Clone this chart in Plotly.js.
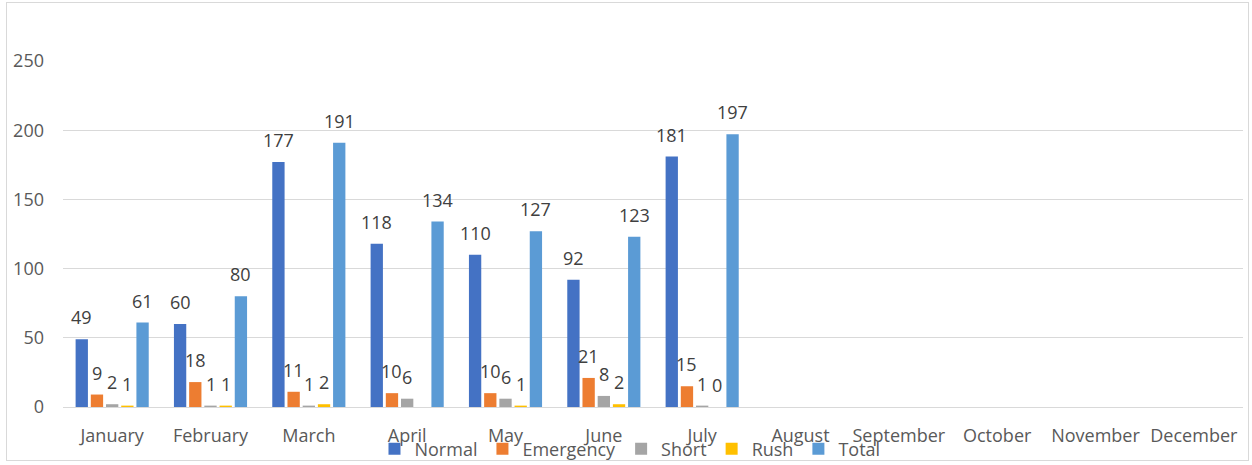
<!DOCTYPE html>
<html>
<head>
<meta charset="utf-8">
<script src="https://cdn.plot.ly/plotly-3.0.1.min.js"></script>
<style>
  html, body { margin: 0; padding: 0; background: #ffffff; }
  #wrap { position: relative; width: 1252px; height: 465px; overflow: hidden; }
  #chart { position: absolute; left: 0; top: 0; width: 1252px; height: 465px; }
  #frame { position: absolute; left: 6px; top: 2px; width: 1243px; height: 459px;
           border: 1px solid #d9d9d9; pointer-events: none; box-sizing: border-box; }
</style>
</head>
<body>
<div id="wrap">
  <div id="chart"></div>
  <div id="frame"></div>
</div>
<script>
const months = ["January", "February", "March", "April", "May", "June",
                "July", "August", "September", "October", "November", "December"];
const normal    = [49, 60, 177, 118, 110, 92, 181, null, null, null, null, null];
const emergency = [9, 18, 11, 10, 10, 21, 15, null, null, null, null, null];
const shortJobs = [2, 1, 1, 6, 6, 8, 1, null, null, null, null, null];
const rush      = [1, 1, 2, null, 1, 2, 0, null, null, null, null, null];
const total     = [61, 80, 191, 134, 127, 123, 197, null, null, null, null, null];
const yTicks    = [0, 50, 100, 150, 200, 250];

const seriesNames  = ["Normal", "Emergency", "Short", "Rush", "Total"];
const seriesValues = [normal, emergency, shortJobs, rush, total];
const seriesColors = ["#4472C4", "#ED7D31", "#A5A5A5", "#FFC000", "#5B9BD5"];

const FONT = '"Open Sans", "Noto Sans", sans-serif';

const W = 1252, H = 465;
const M = { l: 63, r: 9, t: 61, b: 58 };
const BARGAP = 0.227, GROUPGAP = 0.19;

const traces = seriesNames.map((name, i) => ({
  type: "bar",
  name: name,
  x: months,
  y: seriesValues[i],
  marker: { color: seriesColors[i] },
  cliponaxis: false,
  hoverinfo: "skip"
}));

// data labels: centred above each bar of the group
const plotW = W - M.l - M.r;
const catW = plotW / months.length;
const pitch = catW * (1 - BARGAP) / seriesNames.length;
const annotations = [];
seriesValues.forEach((vals, i) => {
  vals.forEach((v, j) => {
    if (v === null) return;
    annotations.push({
      x: months[j], y: v, xref: "x", yref: "y",
      xshift: (i - (seriesNames.length - 1) / 2) * pitch,
      yshift: 8,
      yanchor: "bottom", xanchor: "center",
      showarrow: false,
      text: String(v),
      font: { family: FONT, size: 18, color: "#404040" }
    });
  });
});

const layout = {
  width: W,
  height: H,
  margin: { l: M.l, r: M.r, t: M.t, b: M.b, pad: 0, autoexpand: false },
  paper_bgcolor: "#ffffff",
  plot_bgcolor: "#ffffff",
  font: { family: FONT, size: 18, color: "#595959" },
  barmode: "group",
  bargap: BARGAP,
  bargroupgap: GROUPGAP,
  showlegend: true,
  legend: {
    orientation: "h",
    xref: "paper",
    x: 0.4805, xanchor: "center",
    yref: "container",
    y: 1 - 449 / H, yanchor: "middle",
    font: { family: FONT, size: 18, color: "#595959" },
    itemwidth: 30,
    traceorder: "normal",
    bgcolor: "rgba(0,0,0,0)"
  },
  annotations: annotations,
  xaxis: {
    type: "category",
    categoryorder: "array",
    categoryarray: months,
    range: [-0.5, 11.5],
    showgrid: false,
    showline: true,
    linecolor: "#d9d9d9",
    linewidth: 1,
    ticks: "",
    ticklabelstandoff: 12,
    tickfont: { family: FONT, size: 18, color: "#595959" },
    automargin: false,
    fixedrange: true
  },
  yaxis: {
    range: [0, 250],
    tickmode: "array",
    tickvals: yTicks,
    ticktext: yTicks.map(String),
    showgrid: true,
    gridcolor: "#d9d9d9",
    gridwidth: 1,
    zeroline: false,
    showline: false,
    ticks: "",
    ticklabelstandoff: 18,
    tickfont: { family: FONT, size: 18, color: "#595959" },
    automargin: false,
    fixedrange: true
  }
};

Plotly.newPlot("chart", traces, layout, { displayModeBar: false, staticPlot: true });
</script>
</body>
</html>
